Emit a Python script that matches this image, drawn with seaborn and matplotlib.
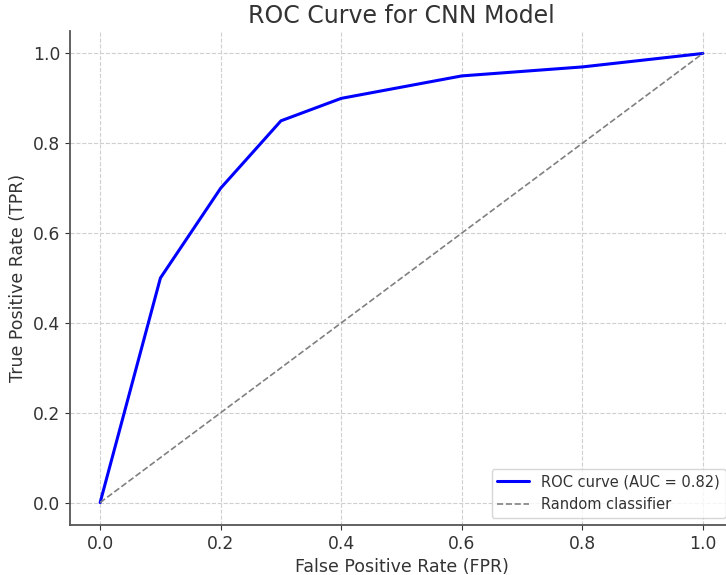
import numpy as np
import pandas as pd
import seaborn as sns
import matplotlib
matplotlib.use("Agg")
import matplotlib.pyplot as plt

# ROC points
fpr = [0.0, 0.1, 0.2, 0.3, 0.4, 0.6, 0.8, 1.0]
tpr = [0.0, 0.5, 0.7, 0.85, 0.9, 0.95, 0.97, 1.0]
diag = [0.0, 1.0]
auc_label = 'ROC curve (AUC = 0.82)'

sns.set_style('ticks', {'axes.grid': True, 'grid.linestyle': '--', 'grid.color': '#cfcfcf'})
plt.rcParams['font.family'] = ['DejaVu Sans']
plt.rcParams['text.color'] = '#333333'
plt.rcParams['axes.labelcolor'] = '#333333'
plt.rcParams['xtick.color'] = '#333333'
plt.rcParams['ytick.color'] = '#333333'
plt.rcParams['axes.edgecolor'] = '#555555'
plt.rcParams['axes.linewidth'] = 1.3
plt.rcParams['grid.linewidth'] = 0.8

fig = plt.figure(figsize=(7.26, 5.75), dpi=100)
ax = fig.add_axes([70/726, 50/575, 663/726, 494/575])

roc = pd.DataFrame({'fpr': fpr, 'tpr': tpr})
sns.lineplot(data=roc, x='fpr', y='tpr', color='blue', lw=2.2, label=auc_label, ax=ax)
sns.lineplot(x=diag, y=diag, color='gray', lw=1.2, linestyle='--', label='Random classifier', ax=ax)

ax.set_xlim(-0.05, 1.05)
ax.set_ylim(-0.05, 1.05)
ax.set_xticks([0, 0.2, 0.4, 0.6, 0.8, 1.0])
ax.set_yticks([0, 0.2, 0.4, 0.6, 0.8, 1.0])
ax.tick_params(labelsize=12.3)
ax.set_title('ROC Curve for CNN Model', fontsize=17)
ax.set_xlabel('False Positive Rate (FPR)', fontsize=12.5)
ax.set_ylabel('True Positive Rate (TPR)', fontsize=12.5)
ax.legend(loc='lower right', fontsize=10.5, handlelength=2.2)
sns.despine(ax=ax)

fig.savefig('out.png', dpi=100)
